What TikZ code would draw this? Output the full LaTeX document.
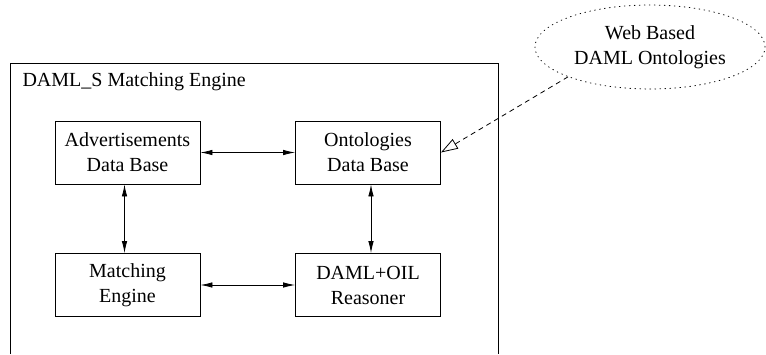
\documentclass[tikz,border=0pt]{standalone}
\usepackage{fontspec}
\setmainfont{Liberation Serif}
\usetikzlibrary{arrows.meta,shapes.geometric}
\begin{document}
\begin{tikzpicture}[x=1pt,y=-1pt,
  txt/.style={font=\fontsize{20}{25}\selectfont},
  blk/.style={txt,draw,line width=0.8pt,minimum width=145pt,minimum height=63pt,align=center,inner sep=0pt},
  biarrow/.style={line width=0.8pt,{Latex[length=12pt,width=5.5pt]}-{Latex[length=12pt,width=5.5pt]}}]
\useasboundingbox (0,0) rectangle (766,354);
\draw[line width=0.8pt] (10,354) -- (10,63) -- (498,63) -- (498,354);
\node[txt,anchor=west] (title) at (19,82) {DAML\_S Matching Engine};
\node[blk] (A) at (127.5,152.5) {Advertisements\\Data Base};
\node[blk] (O) at (368,152.5) {Ontologies\\Data Base};
\node[blk] (M) at (127.5,285) {Matching\\Engine};
\node[blk] (D) at (368,285) {DAML+OIL\\Reasoner};
\node[txt,ellipse,draw,line width=0.8pt,dash pattern=on 0.8pt off 4.2pt,line cap=round,minimum width=230pt,minimum height=84pt,inner sep=0pt,align=center] (W) at (650,47) {Web Based\\DAML Ontologies};
\draw[biarrow] (A) -- (O);
\draw[biarrow] (M) -- (D);
\draw[biarrow] ([xshift=-3pt]A.south) -- ([xshift=-3pt]M.north);
\draw[biarrow] ([xshift=3pt]O.south) -- ([xshift=3pt]D.north);
\draw[dash pattern=on 5pt off 4pt,line width=0.8pt,-{Triangle[open,length=17pt,width=11pt]}] (W.200) -- (O.east);
\end{tikzpicture}
\end{document}
